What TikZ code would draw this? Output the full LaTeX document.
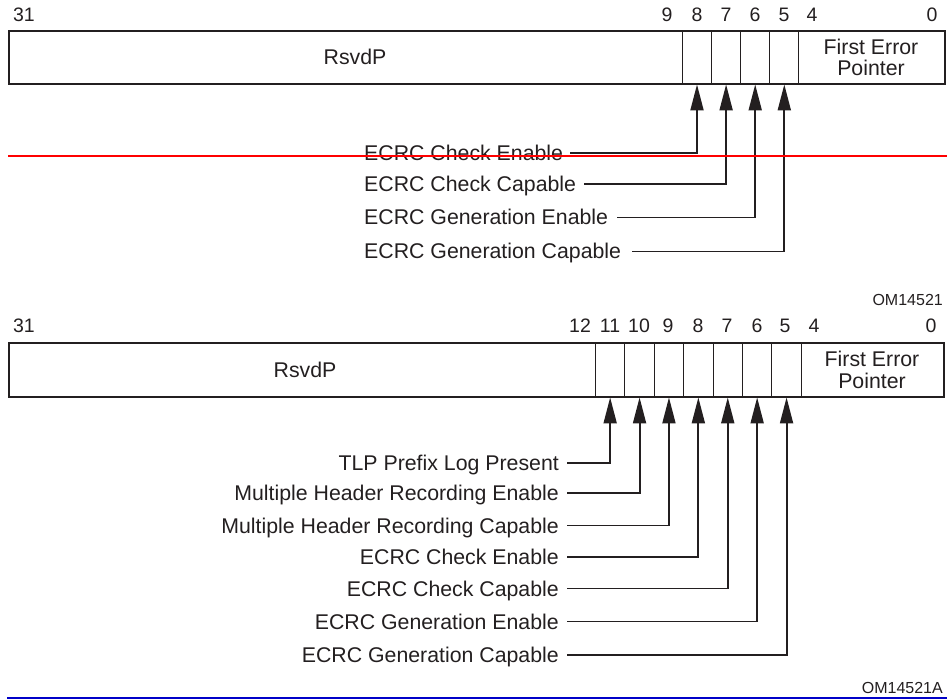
\documentclass[tikz,border=0pt]{standalone}
\usepackage{fontspec}
\setmainfont{Liberation Sans}
\usetikzlibrary{arrows.meta}
\definecolor{ink}{HTML}{231F20}
\definecolor{rline}{RGB}{255,0,0}
\definecolor{bline}{RGB}{0,0,200}
\begin{document}
\begin{tikzpicture}[x=1pt,y=-1pt,
  field/.style={draw=ink, line width=0.9pt, inner sep=0pt, anchor=west},
  topf/.style={field, minimum height=53pt},
  botf/.style={field, minimum height=54pt},
  txt/.style={inner sep=0pt, text=ink, font=\fontsize{21.3}{22}\selectfont, text height=15pt, text depth=0pt},
  dig/.style={inner sep=0pt, text=ink, font=\fontsize{19.5}{20}\selectfont, text height=14pt, text depth=0pt},
  tag/.style={inner sep=0pt, text=ink, font=\fontsize{16}{17}\selectfont, text height=11.5pt, text depth=0pt, anchor=east},
  conn/.style={draw=ink, line width=1.9pt, -{Triangle[length=26pt,width=13pt]}},
  outer/.style={draw=ink, line width=2pt}
]
\useasboundingbox (0,0) rectangle (947,700);

% ---------- top register ----------
\node[topf, minimum width=673pt] (tr) at (9,57.5) {};
\node[topf, minimum width=29.1pt] (t8) at (682,57.5) {};
\node[topf, minimum width=29.1pt] (t7) at (711.1,57.5) {};
\node[topf, minimum width=29.1pt] (t6) at (740.2,57.5) {};
\node[topf, minimum width=29.1pt] (t5) at (769.3,57.5) {};
\node[topf, minimum width=145.6pt] (tf) at (798.4,57.5) {};
\draw[outer] (tr.north west) rectangle (tf.south east);
\node[txt] (trl) at (355,57.5) {RsvdP};
\node[txt] (tf1) at (871,47) {First Error};
\node[txt] (tf2) at (871,68) {Pointer};

\node[dig] (td31) at (24,15) {31};
\node[dig] (td9) at (667,15) {9};
\node[dig] (td8) at (697,15) {8};
\node[dig] (td7) at (726,15) {7};
\node[dig] (td6) at (755,15) {6};
\node[dig] (td5) at (784,15) {5};
\node[dig] (td4) at (812,15) {4};
\node[dig] (td0) at (932,15) {0};

\node[txt, anchor=west] (ta) at (364,153) {ECRC Check Enable};
\node[txt, anchor=west] (tb) at (364,184) {ECRC Check Capable};
\node[txt, anchor=west] (tc) at (364,217.5) {ECRC Generation Enable};
\node[txt, anchor=west] (td) at (364,251.5) {ECRC Generation Capable};

\draw[conn] ([xshift=7pt]ta.east) -| (t8.south);
\draw[conn] ([xshift=8pt]tb.east) -| (t7.south);
\draw[conn] ([xshift=9pt]tc.east) -| (t6.south);
\draw[conn] ([xshift=11pt]td.east) -| (t5.south);

\node[tag] (om1) at (943,300) {OM14521};

% ---------- bottom register ----------
\node[botf, minimum width=586pt] (br) at (9,370) {};
\node[botf, minimum width=29.4pt] (b11) at (595,370) {};
\node[botf, minimum width=29.4pt] (b10) at (624.4,370) {};
\node[botf, minimum width=29.4pt] (b9) at (653.8,370) {};
\node[botf, minimum width=29.4pt] (b8) at (683.2,370) {};
\node[botf, minimum width=29.4pt] (b7) at (712.6,370) {};
\node[botf, minimum width=29.4pt] (b6) at (742,370) {};
\node[botf, minimum width=29.4pt] (b5) at (771.4,370) {};
\node[botf, minimum width=142.2pt] (bf) at (800.8,370) {};
\draw[outer] (br.north west) rectangle (bf.south east);
\node[txt] (brl) at (305,370) {RsvdP};
\node[txt] (bf1) at (872,359) {First Error};
\node[txt] (bf2) at (872,381) {Pointer};

\node[dig] (bd31) at (24,325) {31};
\node[dig] (bd12) at (580,325) {12};
\node[dig] (bd11) at (610,325) {11};
\node[dig] (bd10) at (639,325) {10};
\node[dig] (bd9) at (668,325) {9};
\node[dig] (bd8) at (698,325) {8};
\node[dig] (bd7) at (727,325) {7};
\node[dig] (bd6) at (757,325) {6};
\node[dig] (bd5) at (785,325) {5};
\node[dig] (bd4) at (814,325) {4};
\node[dig] (bd0) at (931,325) {0};

\node[txt, anchor=east] (ba) at (559,463) {TLP Prefix Log Present};
\node[txt, anchor=east] (bb) at (559,493) {Multiple Header Recording Enable};
\node[txt, anchor=east] (bc) at (559,525.5) {Multiple Header Recording Capable};
\node[txt, anchor=east] (bdd) at (559,557) {ECRC Check Enable};
\node[txt, anchor=east] (be) at (559,588.5) {ECRC Check Capable};
\node[txt, anchor=east] (bff) at (559,621.5) {ECRC Generation Enable};
\node[txt, anchor=east] (bg) at (559,655) {ECRC Generation Capable};

\draw[conn] ([xshift=8pt]ba.east) -| (b11.south);
\draw[conn] ([xshift=8pt]bb.east) -| (b10.south);
\draw[conn] ([xshift=8pt]bc.east) -| (b9.south);
\draw[conn] ([xshift=8pt]bdd.east) -| (b8.south);
\draw[conn] ([xshift=8pt]be.east) -| (b7.south);
\draw[conn] ([xshift=8pt]bff.east) -| (b6.south);
\draw[conn] ([xshift=8pt]bg.east) -| (b5.south);

\node[tag] (om2) at (943,688) {OM14521A};

% ---------- rules ----------
\coordinate (r1) at (8,156);
\coordinate (r2) at (947,156);
\draw[rline, line width=2.4pt] (r1) -- (r2);
\coordinate (u1) at (7,698);
\coordinate (u2) at (947,698);
\draw[bline, line width=2pt] (u1) -- (u2);
\end{tikzpicture}
\end{document}
